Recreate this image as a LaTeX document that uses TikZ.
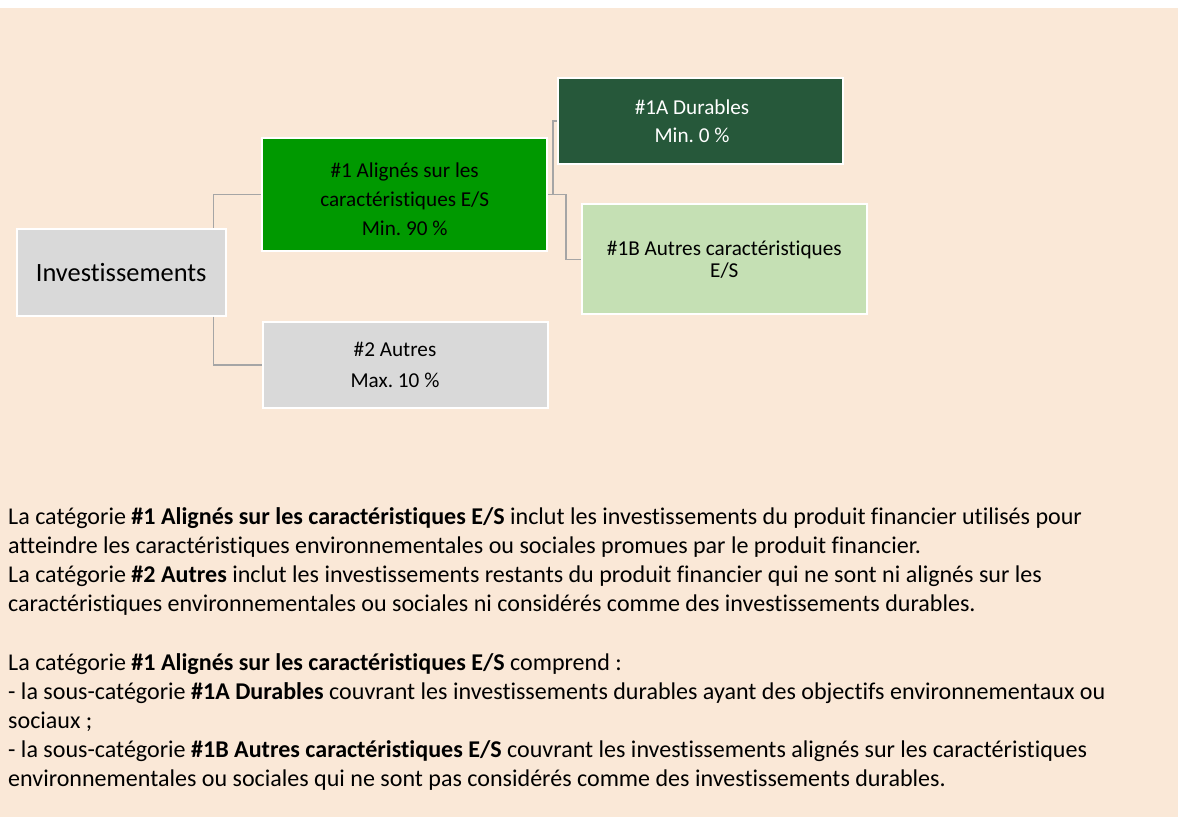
\documentclass[tikz,border=0pt]{standalone}
\usepackage{fontspec}
\setmainfont{Carlito}[Ligatures={NoCommon}]
\definecolor{beige}{RGB}{250,232,215}
\definecolor{grn}{RGB}{0,153,0}
\definecolor{dgrn}{RGB}{38,88,58}
\definecolor{lgrn}{RGB}{197,224,180}
\definecolor{gry}{RGB}{217,217,217}
\definecolor{conncol}{RGB}{165,165,165}
\frenchspacing
\begin{document}
\begin{tikzpicture}[x=1pt,y=-1pt,
  box/.style={draw=white,line width=2pt,inner sep=0pt,rectangle},
  boxtext/.style={inner sep=0pt,align=center},
  conn/.style={draw=conncol,line width=1.4pt},
  body/.style={anchor=base west,inner sep=0pt,font=\fontsize{24.05}{29}\selectfont}]
\useasboundingbox (0,0) rectangle (1178,817);
\fill[white] (0,0) rectangle (1178,817);
\fill[beige] (0,8) rectangle (1178,817);
% boxes
\node[box,fill=gry,minimum width=209pt,minimum height=86.7pt] (inv) at (121.2,272.3) {};
\node[box,fill=grn,minimum width=285.3pt,minimum height=112.4pt] (g1) at (404.7,194.5) {};
\node[box,fill=gry,minimum width=284.7pt,minimum height=86.3pt] (g2) at (405.6,364.8) {};
\node[box,fill=dgrn,minimum width=285.3pt,minimum height=86.3pt] (a1) at (700.3,120.8) {};
\node[box,fill=lgrn,minimum width=285.6pt,minimum height=109.7pt] (b1) at (724.5,259.2) {};
% connectors
\draw[conn] (inv.north east) ++(-13.5,0) |- (g1.west);
\draw[conn] (inv.south east) ++(-13.5,0) |- (g2.west);
\draw[conn] (g1.east) -- ++(4.5,0) |- (a1.west);
\draw[conn] (g1.east) -- ++(17.5,0) |- (b1.west);
% box texts
\node[boxtext,font=\fontsize{26.4}{32}\selectfont] (invt) at (inv.center) {Investissements};
\node[boxtext,font=\fontsize{21.2}{29}\selectfont] (g1t) at (404.7,199.7) {\#1 Alignés sur les\\caractéristiques E/S\\Min. 90 \%};
\node[boxtext,font=\fontsize{21.2}{31.7}\selectfont] (g2t) at (395,365) {\#2 Autres\\Max. 10 \%};
\node[boxtext,text=white,font=\fontsize{21.2}{28.3}\selectfont] (a1t) at (692,121) {\#1A Durables\\Min. 0 \%};
\node[boxtext,font=\fontsize{21.2}{22.4}\selectfont] (b1t) at (724.3,259.5) {\#1B Autres caractéristiques\\E/S};
% body text
\node[body] (l1) at (8,524) {La catégorie \textbf{\#1 Alignés sur les caractéristiques E/S} inclut les investissements du produit financier utilisés pour};
\node[body] (l2) at (8,553.2) {atteindre les caractéristiques environnementales ou sociales promues par le produit financier.};
\node[body] (l3) at (8,582.4) {La catégorie \textbf{\#2 Autres} inclut les investissements restants du produit financier qui ne sont ni alignés sur les};
\node[body] (l4) at (8,611.6) {caractéristiques environnementales ou sociales ni considérés comme des investissements durables.};
\node[body] (l5) at (8,670) {La catégorie \textbf{\#1 Alignés sur les caractéristiques E/S} comprend :};
\node[body] (l6) at (8,699.2) {- la sous-catégorie \textbf{\#1A Durables} couvrant les investissements durables ayant des objectifs environnementaux ou};
\node[body] (l7) at (8,728.4) {sociaux ;};
\node[body] (l8) at (8,757.6) {- la sous-catégorie \textbf{\#1B Autres caractéristiques E/S} couvrant les investissements alignés sur les caractéristiques};
\node[body] (l9) at (8,786.8) {environnementales ou sociales qui ne sont pas considérés comme des investissements durables.};
\end{tikzpicture}
\end{document}
